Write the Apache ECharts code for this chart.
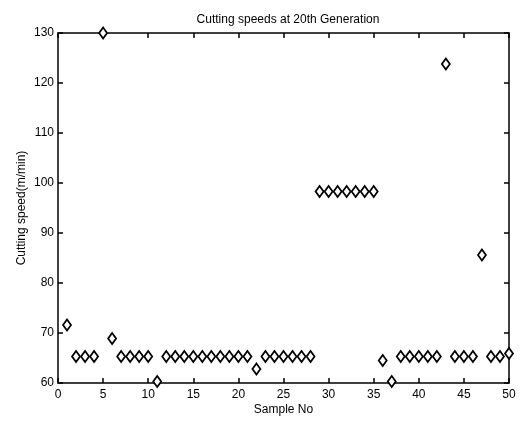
<!DOCTYPE html>
<html>
<head>
<meta charset="utf-8">
<script src="https://cdn.jsdelivr.net/npm/echarts@6/dist/echarts.min.js"></script>
<style>
html,body{margin:0;padding:0;background:#fff;}
#chart{width:520px;height:424px;}
</style>
</head>
<body>
<div id="chart"></div>
<script>
const sampleNo = [1,2,3,4,5,6,7,8,9,10,11,12,13,14,15,16,17,18,19,20,21,22,23,24,25,26,27,28,29,30,31,32,33,34,35,36,37,38,39,40,41,42,43,44,45,46,47,48,49,50];
const cuttingSpeed = [71.6,65.3,65.3,65.3,130,68.9,65.3,65.3,65.3,65.3,60.3,65.3,65.3,65.3,65.3,65.3,65.3,65.3,65.3,65.3,65.3,62.8,65.3,65.3,65.3,65.3,65.3,65.3,98.3,98.3,98.3,98.3,98.3,98.3,98.3,64.5,60.3,65.3,65.3,65.3,65.3,65.3,123.8,65.3,65.3,65.3,85.6,65.3,65.3,65.9];
const xTicks = {min:0, max:50, interval:5};
const yTicks = {min:60, max:130, interval:10};
const titleText = 'Cutting speeds at 20th Generation';
const xName = 'Sample No';
const yName = 'Cutting speed(m/min)';

const font = 'Arial, "Liberation Sans", sans-serif';
const chart = echarts.init(document.getElementById('chart'));
const axisLine = {show:true, onZero:false, lineStyle:{color:'#000', width:1.5}};
const axisTick = {show:true, inside:true, length:5, lineStyle:{color:'#000', width:1.5}};
chart.setOption({
  animation:false,
  backgroundColor:'#fff',
  title:{text:titleText, left:283, top:9, textAlign:'center',
    textStyle:{fontFamily:font, fontSize:12, fontWeight:'normal', color:'#000'}},
  grid:{left:58, right:11, top:33, bottom:41, containLabel:false},
  xAxis:[
    {type:'value', position:'bottom', min:xTicks.min, max:xTicks.max, interval:xTicks.interval,
     name:xName, nameLocation:'middle', nameGap:21, nameMoveOverlap:false,
     nameTextStyle:{fontFamily:font, fontSize:12, color:'#000'},
     axisLine, axisTick, splitLine:{show:false},
     axisLabel:{fontFamily:font, fontSize:12, color:'#000', margin:6}},
    {type:'value', position:'top', min:xTicks.min, max:xTicks.max, interval:xTicks.interval,
     axisLine, axisTick, splitLine:{show:false}, axisLabel:{show:false}}
  ],
  yAxis:[
    {type:'value', position:'left', min:yTicks.min, max:yTicks.max, interval:yTicks.interval,
     name:yName, nameLocation:'middle', nameGap:30, nameMoveOverlap:false,
     nameTextStyle:{fontFamily:font, fontSize:12, color:'#000'},
     axisLine, axisTick, splitLine:{show:false},
     axisLabel:{fontFamily:font, fontSize:12, color:'#000', margin:4}},
    {type:'value', position:'right', min:yTicks.min, max:yTicks.max, interval:yTicks.interval,
     axisLine, axisTick, splitLine:{show:false}, axisLabel:{show:false}}
  ],
  series:[{
    type:'scatter', xAxisIndex:0, yAxisIndex:0, clip:false,
    symbol:'diamond', symbolSize:[8,11],
    itemStyle:{color:'#fff', borderColor:'#000', borderWidth:1.8, opacity:1},
    data: sampleNo.map((x,i)=>[x, cuttingSpeed[i]])
  }]
});
</script>
</body>
</html>
